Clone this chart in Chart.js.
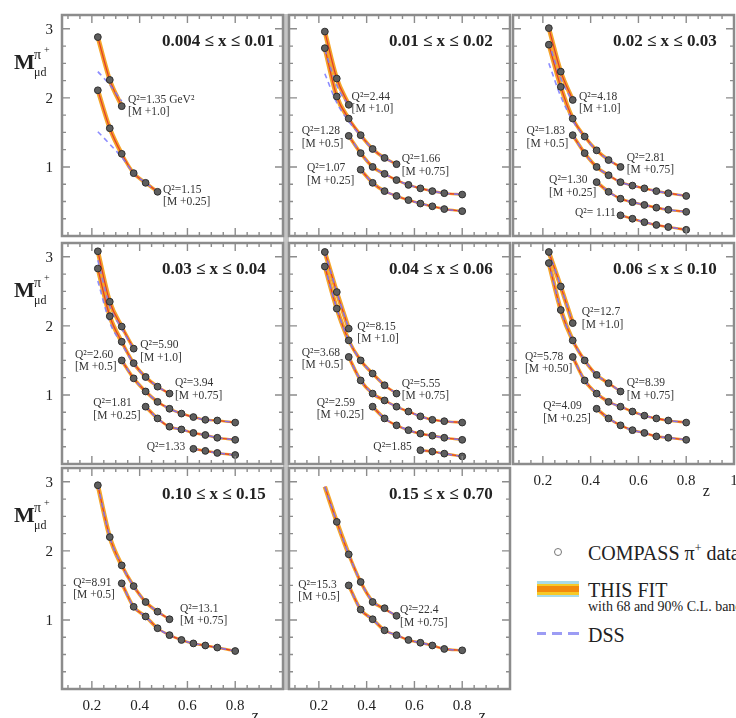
<!DOCTYPE html>
<html>
<head>
<meta charset="utf-8">
<script src="https://cdn.jsdelivr.net/npm/chart.js@4.4.1/dist/chart.umd.min.js"></script>
<style>
  html, body { margin: 0; padding: 0; background: #fff; width: 736px; height: 718px; overflow: hidden; }
  body { position: relative; font-family: "Liberation Serif", "DejaVu Serif", serif; color: #222; }
  canvas { position: absolute; }
  .bar { position: absolute; background: #c4c4c4; }
  .lg { position: absolute; white-space: nowrap; line-height: 1; }
  .sw { position: absolute; }
</style>
</head>
<body>
<div class="bar" style="left:283px;top:14px;width:6px;height:676px"></div>

<!-- legend -->
<div class="sw" style="left:554px;top:548px;width:8px;height:8px;border:1px solid #777;border-radius:50%;box-sizing:border-box"></div>
<div class="lg" style="left:588px;top:542.5px;font-size:20px">COMPASS π<span style="font-size:12px;position:relative;top:-8px">+</span> data</div>
<div class="sw" style="left:537px;top:581px;width:42px;height:16px;background:#a9dbe8"></div>
<div class="sw" style="left:537px;top:583.5px;width:42px;height:11px;background:#f6c928"></div>
<div class="sw" style="left:537px;top:586px;width:42px;height:6px;background:#f28a0c"></div>
<div class="lg" style="left:588px;top:579.5px;font-size:20px">THIS FIT</div>
<div class="lg" style="left:588px;top:600px;font-size:14px">with 68 and 90% C.L. bands</div>
<div class="sw" style="left:537px;top:632px;width:9px;height:3px;background:#9c9cf4"></div>
<div class="sw" style="left:552px;top:632px;width:10px;height:3px;background:#9c9cf4"></div>
<div class="sw" style="left:568px;top:632px;width:11px;height:3px;background:#9c9cf4"></div>
<div class="lg" style="left:588px;top:625px;font-size:20px">DSS</div>

<script>
// z bin centres shared by every curve
const zBins = [0.225, 0.275, 0.325, 0.375, 0.425, 0.475, 0.525, 0.575, 0.625, 0.675, 0.725, 0.8];
const _ = null;

// axis tick labels
const xTickLabels = ['0.2', '0.4', '0.6', '0.8'];
const xTickValues = [0.2, 0.4, 0.6, 0.8];
const yTickLabels = ['1', '2', '3'];
const yTickValues = [1, 2, 3];

// 0.004 <= x <= 0.01
const a_q135     = [2.88, 2.26, 1.88, _, _, _, _, _, _, _, _, _];
const a_q135_dss = [2.38, 2.19, 1.95, _, _, _, _, _, _, _, _, _];
const a_q115     = [2.11, 1.56, 1.19, 0.91, 0.77, 0.64, _, _, _, _, _, _];
const a_q115_dss = [1.51, 1.33, 1.14, 0.91, 0.77, 0.64, _, _, _, _, _, _];

// 0.01 <= x <= 0.02
const b_q244     = [2.96, 2.28, 1.90, _, _, _, _, _, _, _, _, _];
const b_q244_dss = [2.70, 2.18, 1.88, _, _, _, _, _, _, _, _, _];
const b_q166     = [2.72, 2.02, 1.70, 1.46, 1.26, 1.13, 1.04, _, _, _, _, _];
const b_q166_dss = [2.35, 1.93, 1.66, 1.45, 1.26, 1.13, 1.04, _, _, _, _, _];
const b_q128     = [_, _, 1.45, 1.20, 1.00, 0.90, 0.81, 0.74, 0.69, 0.65, 0.62, 0.60];
const b_q107     = [_, _, _, 0.96, 0.77, 0.65, 0.58, 0.52, 0.47, 0.43, 0.39, 0.36];

// 0.02 <= x <= 0.03
const c_q418     = [3.01, 2.38, 1.97, _, _, _, _, _, _, _, _, _];
const c_q418_dss = [2.80, 2.28, 1.94, _, _, _, _, _, _, _, _, _];
const c_q281     = [2.77, 2.16, 1.70, 1.44, 1.24, 1.10, 1.00, _, _, _, _, _];
const c_q281_dss = [2.50, 2.02, 1.67, 1.43, 1.24, 1.10, 1.00, _, _, _, _, _];
const c_q183     = [_, _, 1.46, 1.20, 1.00, 0.88, 0.78, 0.73, 0.69, 0.65, 0.62, 0.58];
const c_q130     = [_, _, _, _, 0.78, 0.64, 0.54, 0.49, 0.45, 0.41, 0.38, 0.35];
const c_q111     = [_, _, _, _, _, _, 0.30, 0.25, 0.20, 0.16, 0.13, 0.09];

// 0.03 <= x <= 0.04
const d_q590     = [3.08, 2.35, 1.99, 1.67, _, _, _, _, _, _, _, _];
const d_q590_dss = [2.95, 2.28, 1.96, 1.66, _, _, _, _, _, _, _, _];
const d_q394     = [2.83, 2.14, 1.77, 1.46, 1.26, 1.12, 1.02, _, _, _, _, _];
const d_q394_dss = [2.65, 2.05, 1.74, 1.45, 1.26, 1.12, 1.02, _, _, _, _, _];
const d_q260     = [_, _, 1.50, 1.24, 1.05, 0.90, 0.80, 0.73, 0.68, 0.64, 0.63, 0.60];
const d_q181     = [_, _, _, _, 0.83, 0.66, 0.54, 0.50, 0.45, 0.42, 0.38, 0.35];
const d_q133     = [_, _, _, _, _, _, _, _, 0.22, 0.19, 0.16, 0.13];

// 0.04 <= x <= 0.06
const e_q815     = [3.07, 2.49, 1.96, _, _, _, _, _, _, _, _, _];
const e_q555     = [2.86, 2.25, 1.79, 1.50, 1.31, 1.14, 1.02, _, _, _, _, _];
const e_q368     = [_, _, 1.55, 1.21, 1.02, 0.92, 0.83, 0.76, 0.69, 0.64, 0.62, 0.60];
const e_q259     = [_, _, _, _, 0.83, 0.66, 0.56, 0.49, 0.44, 0.41, 0.38, 0.35];
const e_q185     = [_, _, _, _, _, _, _, _, 0.20, 0.18, 0.15, 0.11];

// 0.06 <= x <= 0.10
const f_q127     = [3.07, 2.57, 2.04, _, _, _, _, _, _, _, _, _];
const f_q839     = [2.91, 2.23, 1.79, 1.50, 1.29, 1.17, 1.05, _, _, _, _, _];
const f_q578     = [_, _, 1.55, 1.21, 1.02, 0.90, 0.83, 0.76, 0.70, 0.66, 0.63, 0.60];
const f_q409     = [_, _, _, _, 0.80, 0.66, 0.56, 0.49, 0.45, 0.40, 0.38, 0.35];

// 0.10 <= x <= 0.15
const g_q131     = [2.95, 2.20, 1.79, 1.49, 1.26, 1.12, 1.01, _, _, _, _, _];
const g_q891     = [_, _, 1.53, 1.19, 1.05, 0.88, 0.78, 0.71, 0.66, 0.63, 0.60, 0.55];

// 0.15 <= x <= 0.70
const h_q224     = [_, 2.42, 1.95, 1.55, 1.26, 1.17, 1.06, _, _, _, _, _];
const h_q224_fit = [2.93, 2.42, 1.95, 1.55, 1.27, 1.16, 1.06, _, _, _, _, _];
const h_q153     = [_, _, 1.50, 1.15, 1.01, 0.85, 0.78, 0.71, 0.67, 0.63, 0.58, 0.56];

// panel grid: chart-area origin of each column / row (px) and common size
const colLeft = [62, 289, 513];
const rowTop = [15, 243, 468];
const AREA = 221;
const PAD = { left: 62, top: 15, right: 12, bottom: 32 };

const panels = [
  { title: '0.004 ≤ x ≤ 0.01', col: 0, row: 0, curves: [
    { pts: a_q135, dss: a_q135_dss, q2: 'Q²=1.35 GeV²', shift: '[M +1.0]', at: [0.351, 1.97] },
    { pts: a_q115, dss: a_q115_dss, q2: 'Q²=1.15', shift: '[M +0.25]', at: [0.498, 0.67] } ] },
  { title: '0.01 ≤ x ≤ 0.02', col: 1, row: 0, curves: [
    { pts: b_q244, dss: b_q244_dss, q2: 'Q²=2.44', shift: '[M +1.0]', at: [0.337, 2.02] },
    { pts: b_q166, dss: b_q166_dss, q2: 'Q²=1.66', shift: '[M +0.75]', at: [0.547, 1.11] },
    { pts: b_q128, q2: 'Q²=1.28', shift: '[M +0.5]', at: [0.128, 1.52] },
    { pts: b_q107, q2: 'Q²=1.07', shift: '[M +0.25]', at: [0.150, 0.98] } ] },
  { title: '0.02 ≤ x ≤ 0.03', col: 2, row: 0, curves: [
    { pts: c_q418, dss: c_q418_dss, q2: 'Q²=4.18', shift: '[M +1.0]', at: [0.351, 2.02] },
    { pts: c_q281, dss: c_q281_dss, q2: 'Q²=2.81', shift: '[M +0.75]', at: [0.551, 1.13] },
    { pts: c_q183, q2: 'Q²=1.83', shift: '[M +0.5]', at: [0.132, 1.52] },
    { pts: c_q130, q2: 'Q²=1.30', shift: '[M +0.25]', at: [0.226, 0.81] },
    { pts: c_q111, q2: 'Q²= 1.11', shift: '', at: [0.334, 0.34] } ] },
  { title: '0.03 ≤ x ≤ 0.04', col: 0, row: 1, curves: [
    { pts: d_q590, dss: d_q590_dss, q2: 'Q²=5.90', shift: '[M +1.0]', at: [0.402, 1.72] },
    { pts: d_q394, dss: d_q394_dss, q2: 'Q²=3.94', shift: '[M +0.75]', at: [0.548, 1.17] },
    { pts: d_q260, q2: 'Q²=2.60', shift: '[M +0.5]', at: [0.129, 1.58] },
    { pts: d_q181, q2: 'Q²=1.81', shift: '[M +0.25]', at: [0.206, 0.88] },
    { pts: d_q133, q2: 'Q²=1.33', shift: '', at: [0.430, 0.25] } ] },
  { title: '0.04 ≤ x ≤ 0.06', col: 1, row: 1, curves: [
    { pts: e_q815, q2: 'Q²=8.15', shift: '[M +1.0]', at: [0.361, 1.99] },
    { pts: e_q555, q2: 'Q²=5.55', shift: '[M +0.75]', at: [0.547, 1.16] },
    { pts: e_q368, q2: 'Q²=3.68', shift: '[M +0.5]', at: [0.128, 1.61] },
    { pts: e_q259, q2: 'Q²=2.59', shift: '[M +0.25]', at: [0.191, 0.89] },
    { pts: e_q185, q2: 'Q²=1.85', shift: '', at: [0.428, 0.24] } ] },
  { title: '0.06 ≤ x ≤ 0.10', col: 2, row: 1, xLabels: true, one: true, curves: [
    { pts: f_q127, q2: 'Q²=12.7', shift: '[M +1.0]', at: [0.363, 2.20] },
    { pts: f_q839, q2: 'Q²=8.39', shift: '[M +0.75]', at: [0.551, 1.17] },
    { pts: f_q578, q2: 'Q²=5.78', shift: '[M +0.50]', at: [0.125, 1.55] },
    { pts: f_q409, q2: 'Q²=4.09', shift: '[M +0.25]', at: [0.202, 0.84] } ] },
  { title: '0.10 ≤ x ≤ 0.15', col: 0, row: 2, xLabels: true, curves: [
    { pts: g_q131, q2: 'Q²=13.1', shift: '[M +0.75]', at: [0.569, 1.16] },
    { pts: g_q891, q2: 'Q²=8.91', shift: '[M +0.5]', at: [0.122, 1.54] } ] },
  { title: '0.15 ≤ x ≤ 0.70', col: 1, row: 2, xLabels: true, curves: [
    { pts: h_q224, fit: h_q224_fit, q2: 'Q²=22.4', shift: '[M +0.75]', at: [0.540, 1.14] },
    { pts: h_q153, q2: 'Q²=15.3', shift: '[M +0.5]', at: [0.114, 1.51] } ] }
];

const SERIF = '"Liberation Serif", "DejaVu Serif", serif';

function xy(arr) {
  const out = [];
  zBins.forEach((z, i) => { if (arr[i] !== null && arr[i] !== undefined) out.push({ x: z, y: arr[i] }); });
  return out;
}

// frame, inward ticks on all four sides, tick labels and annotations
const panelDecor = {
  id: 'panelDecor',
  afterDraw(chart) {
    const P = chart.canvas._panel;
    const { ctx, chartArea: a, scales: { x, y } } = chart;
    ctx.save();
    ctx.strokeStyle = '#8c8c8c';
    ctx.lineWidth = 1.4;
    ctx.beginPath();
    for (let k = 2; k <= 19; k++) {
      const px = x.getPixelForValue(k * 0.05);
      const len = (k % 4 === 0) ? 8 : 4;
      ctx.moveTo(px, a.bottom); ctx.lineTo(px, a.bottom - len);
      ctx.moveTo(px, a.top); ctx.lineTo(px, a.top + len);
    }
    for (let k = 1; k <= 12; k++) {
      const py = y.getPixelForValue(k * 0.25);
      const len = (k % 4 === 0) ? 8 : 4;
      ctx.moveTo(a.left, py); ctx.lineTo(a.left + len, py);
      ctx.moveTo(a.right, py); ctx.lineTo(a.right - len, py);
    }
    ctx.stroke();
    ctx.lineWidth = 2.5;
    ctx.strokeRect(a.left, a.top, a.width, a.height);

    ctx.fillStyle = '#222';
    // title
    ctx.font = 'bold 17px ' + SERIF;
    ctx.textAlign = 'left';
    ctx.textBaseline = 'middle';
    ctx.fillText(P.title, a.left + 100, a.top + 27);

    // y tick labels on the first column
    if (P.col === 0) {
      ctx.font = '15px ' + SERIF;
      ctx.textAlign = 'right';
      yTickValues.forEach((v, i) => ctx.fillText(yTickLabels[i], a.left - 9, y.getPixelForValue(v) + 1));
      // axis title M^{pi+}_{mu d}
      ctx.textAlign = 'left';
      ctx.textBaseline = 'alphabetic';
      ctx.font = 'bold 22px ' + SERIF;
      ctx.fillText('M', 14, a.top + 54);
      ctx.font = '14px ' + SERIF;
      ctx.fillText('π', 34, a.top + 44);
      ctx.font = '10px ' + SERIF;
      ctx.fillText('+', 44, a.top + 38);
      ctx.font = '12px ' + SERIF;
      ctx.fillText('μd', 34, a.top + 61);
      ctx.textBaseline = 'middle';
    }

    // x tick labels
    if (P.xLabels) {
      ctx.font = '15px ' + SERIF;
      ctx.textAlign = 'center';
      xTickValues.forEach((v, i) => ctx.fillText(xTickLabels[i], x.getPixelForValue(v), a.bottom + 17));
      if (P.one) ctx.fillText('1', x.getPixelForValue(1.0), a.bottom + 17);
      ctx.font = '16px ' + SERIF;
      ctx.fillText('z', x.getPixelForValue(0.8) + 20, a.bottom + 28);
    }

    // Q^2 annotations
    ctx.font = '11.5px ' + SERIF;
    ctx.textAlign = 'left';
    ctx.fillStyle = '#333';
    P.curves.forEach(c => {
      const px = x.getPixelForValue(c.at[0]);
      const py = y.getPixelForValue(c.at[1]);
      ctx.fillText(c.q2, px, py);
      if (c.shift) ctx.fillText(c.shift, px, py + 12.5);
    });
    ctx.restore();
  }
};

panels.forEach(P => {
  const cv = document.createElement('canvas');
  const w = PAD.left + AREA + PAD.right;
  const h = PAD.top + AREA + PAD.bottom;
  cv.width = w; cv.height = h;
  cv.style.left = (colLeft[P.col] - PAD.left) + 'px';
  cv.style.top = (rowTop[P.row] - PAD.top) + 'px';
  cv._panel = P;
  document.body.appendChild(cv);

  const datasets = [];
  P.curves.forEach(c => {
    const fit = xy(c.fit || c.pts);
    const dss = xy(c.dss || c.fit || c.pts);
    datasets.push({
      data: fit, showLine: true, pointRadius: 0, borderColor: '#f4a52a', order: 4,
      cubicInterpolationMode: 'monotone',
      segment: { borderWidth: s => s.p0.parsed.x < 0.3 ? 4.5 : (s.p0.parsed.x < 0.45 ? 3.5 : 2.6) }
    });
    datasets.push({
      data: fit, showLine: true, pointRadius: 0, borderColor: '#e23b2c', borderWidth: 1.2, order: 3,
      cubicInterpolationMode: 'monotone'
    });
    datasets.push({
      data: dss, showLine: true, pointRadius: 0, borderColor: 'rgba(120,120,255,0.85)', borderWidth: 1.6,
      borderDash: [5, 4], order: 2, cubicInterpolationMode: 'monotone'
    });
    datasets.push({
      data: xy(c.pts), showLine: false, pointRadius: 3.4, pointBackgroundColor: '#5e5e5e',
      pointBorderColor: '#2e2e2e', pointBorderWidth: 1, order: 1
    });
  });

  new Chart(cv, {
    type: 'scatter',
    data: { datasets },
    options: {
      responsive: false,
      animation: false,
      devicePixelRatio: 1,
      layout: { padding: PAD },
      scales: {
        x: { type: 'linear', min: 0.075, max: 1.0, display: false },
        y: { type: 'linear', min: 0, max: 3.2, display: false }
      },
      plugins: { legend: { display: false }, tooltip: { enabled: false } },
      events: []
    },
    plugins: [panelDecor]
  });
});
</script>
</body>
</html>
